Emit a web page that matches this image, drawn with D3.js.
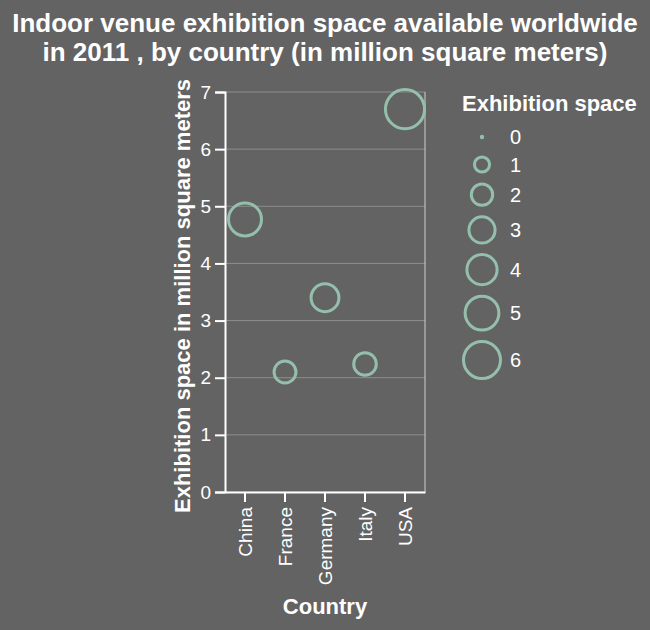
<!DOCTYPE html>
<html>
<head>
<meta charset="utf-8">
<script src="https://cdn.jsdelivr.net/npm/d3@7"></script>
<style>
  body { margin: 0; background: #636363; }
  svg { display: block; font-family: 'Liberation Sans', Arial, sans-serif; }
</style>
</head>
<body>
<svg width="650" height="630"></svg>
<script>
const countries = ['China', 'France', 'Germany', 'Italy', 'USA'];
const space = [4.77, 2.1, 3.4, 2.24, 6.7];
const yTicks = [0, 1, 2, 3, 4, 5, 6, 7];
const legendValues = [0, 1, 2, 3, 4, 5, 6];

const bg = '#636363';
const markColor = '#95bfad';
const width = 650;
const height = 630;
const margin = { top: 92, right: 225, bottom: 138, left: 225 };

const svg = d3.select('svg');
svg.append('rect').attr('width', width).attr('height', height).attr('fill', bg);

const x = d3
  .scaleBand()
  .domain(countries)
  .range([margin.left, width - margin.right]);

const y = d3
  .scaleLinear()
  .domain([0, 7])
  .range([height - margin.bottom, margin.top]);

// size scale: area proportional to value
const r = d3.scaleSqrt().domain([0, 6]).range([0, 18.5]);

// title
svg
  .append('g')
  .selectAll('text')
  .data([
    'Indoor venue exhibition space available worldwide',
    'in 2011 , by country (in million square meters)'
  ])
  .enter()
  .append('text')
  .attr('x', width / 2)
  .attr('y', (d, i) => 32 + i * 29)
  .attr('text-anchor', 'middle')
  .attr('fill', '#fff')
  .style('font-size', '26px')
  .style('font-weight', 'bold')
  .text(d => d);

// grid
svg
  .append('g')
  .selectAll('line')
  .data(yTicks)
  .enter()
  .append('line')
  .attr('x1', margin.left)
  .attr('x2', width - margin.right)
  .attr('y1', d => y(d))
  .attr('y2', d => y(d))
  .attr('stroke', '#8e8e8e')
  .attr('stroke-width', 1);

// right border
svg
  .append('line')
  .attr('x1', width - margin.right)
  .attr('x2', width - margin.right)
  .attr('y1', margin.top)
  .attr('y2', height - margin.bottom)
  .attr('stroke', '#cfcfcf');

// y axis
const yAxis = svg
  .append('g')
  .attr('transform', `translate(${margin.left},0)`)
  .call(
    d3
      .axisLeft(y)
      .tickValues(yTicks)
      .tickFormat(d3.format('d'))
      .tickSize(10)
      .tickPadding(4)
  );
yAxis.select('.domain').attr('stroke', '#fff').attr('stroke-width', 2);
yAxis.selectAll('.tick line').attr('stroke', '#fff').attr('stroke-width', 2);
yAxis
  .selectAll('.tick text')
  .attr('fill', '#fff')
  .attr('font-family', null)
  .style('font-size', '19px');

// x axis
const xAxis = svg
  .append('g')
  .attr('transform', `translate(0,${height - margin.bottom})`)
  .call(d3.axisBottom(x).tickSize(10).tickSizeOuter(0));
xAxis.select('.domain').attr('stroke', '#fff').attr('stroke-width', 2);
xAxis.selectAll('.tick line').attr('stroke', '#fff').attr('stroke-width', 2);
xAxis
  .selectAll('.tick text')
  .attr('fill', '#fff')
  .attr('font-family', null)
  .style('font-size', '19px')
  .attr('transform', 'rotate(-90)')
  .attr('text-anchor', 'end')
  .attr('x', -15)
  .attr('y', 0)
  .attr('dy', '0.35em');

// axis titles
svg
  .append('text')
  .attr('x', (margin.left + width - margin.right) / 2)
  .attr('y', 614)
  .attr('text-anchor', 'middle')
  .attr('fill', '#fff')
  .style('font-size', '22px')
  .style('font-weight', 'bold')
  .text('Country');

svg
  .append('text')
  .attr('transform', `translate(190,${(margin.top + height - margin.bottom) / 2 + 4}) rotate(-90)`)
  .attr('text-anchor', 'middle')
  .attr('fill', '#fff')
  .style('font-size', '22px')
  .style('font-weight', 'bold')
  .text('Exhibition space in million square meters');

// points
svg
  .append('g')
  .selectAll('circle')
  .data(countries)
  .enter()
  .append('circle')
  .attr('cx', d => x(d) + x.bandwidth() / 2)
  .attr('cy', (d, i) => y(space[i]))
  .attr('r', (d, i) => r(space[i]))
  .attr('fill', 'none')
  .attr('stroke', markColor)
  .attr('stroke-width', 3);

// legend
const legend = svg.append('g').attr('transform', 'translate(462,0)');
legend
  .append('text')
  .attr('x', 0)
  .attr('y', 111)
  .attr('fill', '#fff')
  .style('font-size', '22px')
  .style('font-weight', 'bold')
  .text('Exhibition space');

let cy = 137;
const rowH = v => Math.max(2 * r(v) + 3, 19);
const entries = legendValues.map((v, i) => {
  if (i > 0) cy += (rowH(legendValues[i - 1]) + rowH(v)) / 2 + 8.5;
  return { v, cy };
});

const entry = legend
  .selectAll('g.entry')
  .data(entries)
  .enter()
  .append('g')
  .attr('class', 'entry')
  .attr('transform', d => `translate(20,${d.cy})`);

entry
  .append('circle')
  .attr('r', d => (d.v === 0 ? 2.2 : r(d.v)))
  .attr('fill', d => (d.v === 0 ? markColor : 'none'))
  .attr('stroke', markColor)
  .attr('stroke-width', d => (d.v === 0 ? 0 : 3));

entry
  .append('text')
  .attr('x', 28)
  .attr('dy', '0.35em')
  .attr('fill', '#fff')
  .style('font-size', '20px')
  .text(d => d.v);
</script>
</body>
</html>
